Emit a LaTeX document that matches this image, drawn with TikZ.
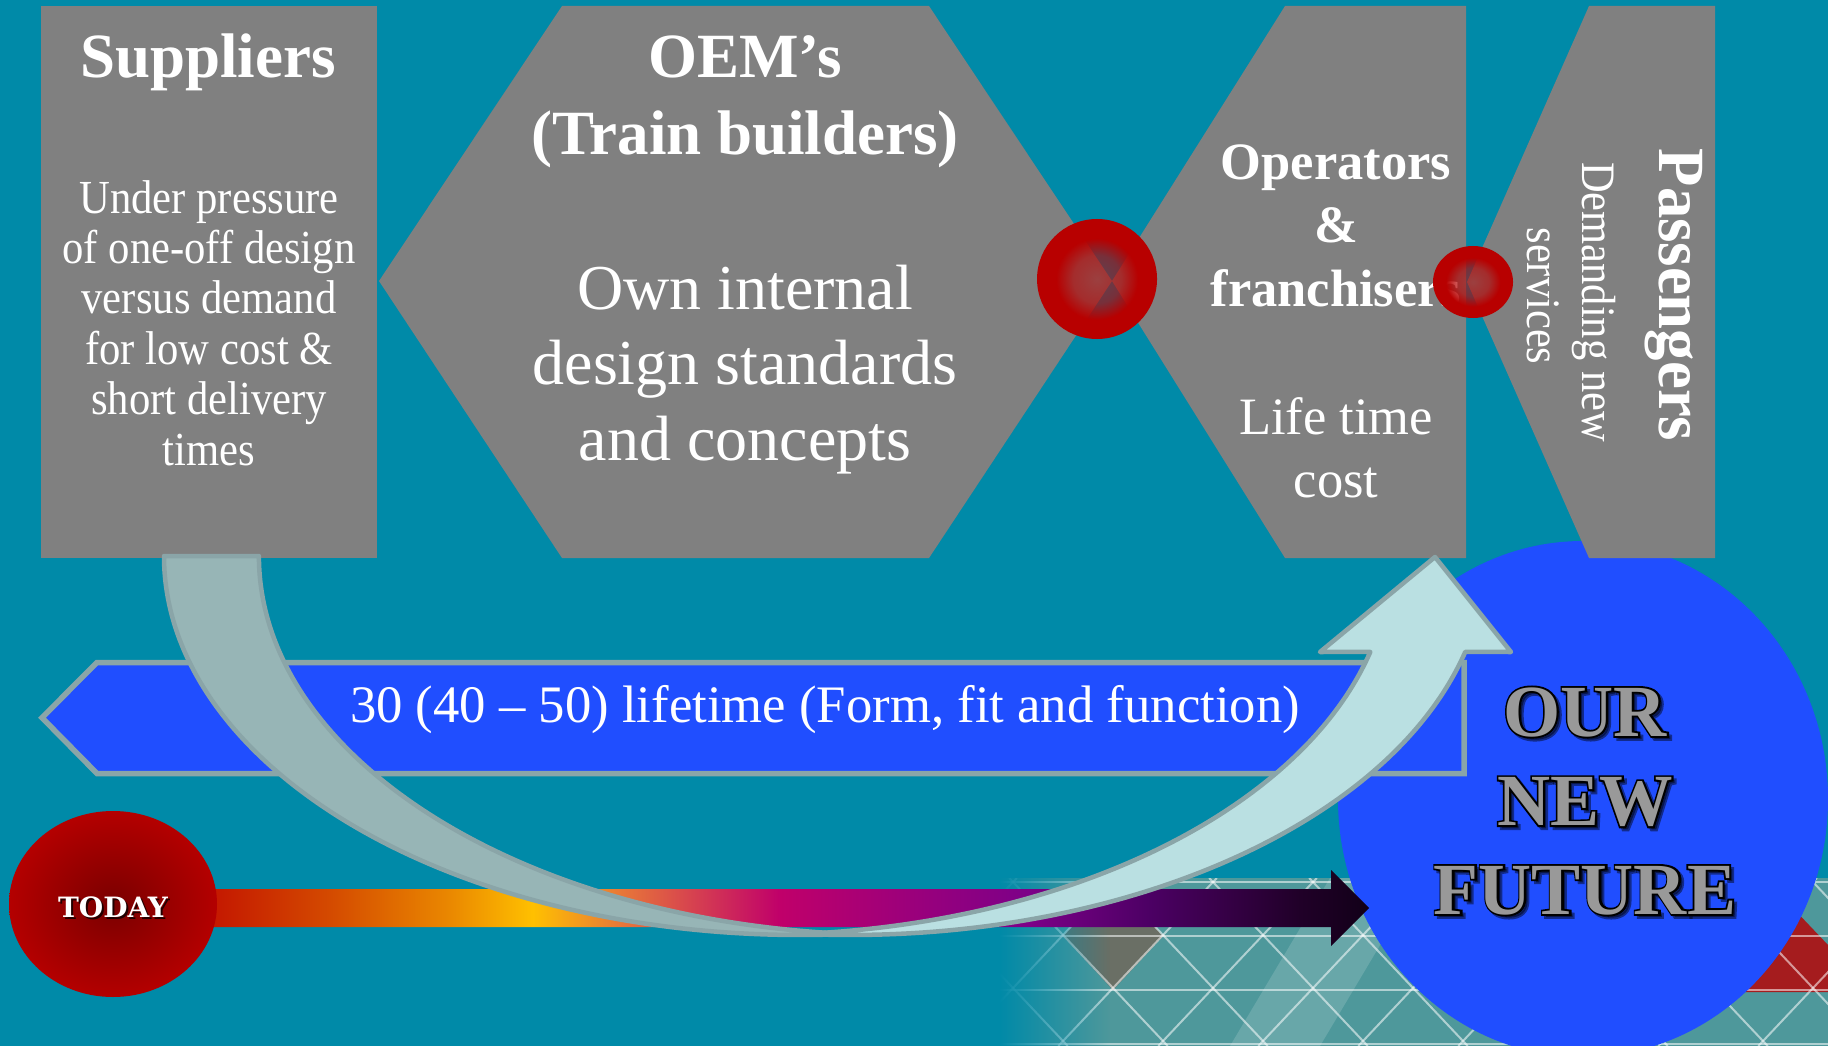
\documentclass[tikz,border=0pt]{standalone}
\usepackage{fontspec}
\setmainfont{Liberation Serif}
\newfontfamily\condserif{Liberation Serif}[FakeStretch=0.9]
\newfontfamily\sidefont{Liberation Serif}[FakeStretch=0.885]
\newfontfamily\passfont{Liberation Serif}[FakeStretch=0.95]
\newfontfamily\todayfont{DejaVu Serif}
\newfontfamily\rimfont{Liberation Serif}[BoldFeatures={FakeBold=5}]
\usetikzlibrary{fadings}

\definecolor{seac}{RGB}{0,138,168}
\definecolor{slatec}{RGB}{128,128,128}
\definecolor{royalc}{RGB}{32,78,255}
\definecolor{rimc}{RGB}{138,165,168}
\definecolor{backc}{RGB}{151,181,182}
\definecolor{frontc}{RGB}{186,224,226}
\definecolor{dotc}{RGB}{184,0,0}
\definecolor{todayc}{RGB}{180,0,0}
\definecolor{todaycorec}{RGB}{122,0,0}
\definecolor{futurec}{RGB}{153,153,153}
\definecolor{latc}{RGB}{78,152,155}
\definecolor{latbrownc}{RGB}{112,104,92}
\definecolor{latredc}{RGB}{165,28,30}
% colour stops of the time bar
\definecolor{tb0}{HTML}{C41800}
\definecolor{tb1}{HTML}{D44A00}
\definecolor{tb2}{HTML}{EA8800}
\definecolor{tb3}{HTML}{FFC000}
\definecolor{tb4}{HTML}{E87838}
\definecolor{tb5}{HTML}{D43C52}
\definecolor{tb6}{HTML}{C0006A}
\definecolor{tb7}{HTML}{9E007A}
\definecolor{tb8}{HTML}{7C0088}
\definecolor{tb9}{HTML}{4C0064}
\definecolor{tb10}{HTML}{200028}
\definecolor{tb11}{HTML}{120018}

\pgfdeclarehorizontalshading{timebar}{100bp}{color(0bp)=(tb0); color(26.4bp)=(tb0);
  color(31.3bp)=(tb1); color(36.35bp)=(tb2); color(39.84bp)=(tb3); color(43.5bp)=(tb4);
  color(46.87bp)=(tb5); color(50.23bp)=(tb6); color(55.28bp)=(tb7); color(60.74bp)=(tb8);
  color(65.79bp)=(tb9); color(72.1bp)=(tb10); color(75bp)=(tb11); color(100bp)=(tb11)}

% red joints: opaque rim, see-through core
\pgfdeclareradialshading{dotmask}{\pgfpointorigin}{color(0bp)=(pgftransparent!50);
  color(10bp)=(pgftransparent!35); color(17bp)=(pgftransparent!0); color(50bp)=(pgftransparent!0)}
\pgfdeclarefading{dotfade}{\pgfuseshading{dotmask}}
\tikzfading[name=latcover, left color=transparent!0, right color=transparent!100]

\tikzset{
  txt/.style={text=white, inner sep=0pt, anchor=base},
  headtxt/.style={txt, font=\fontsize{63}{70}\selectfont\bfseries},
  suptxt/.style={txt, font=\condserif\fontsize{47.4}{50}\selectfont},
  oemtxt/.style={txt, font=\fontsize{64}{70}\selectfont},
  optxt/.style={txt, font=\fontsize{52.5}{60}\selectfont\bfseries},
  costtxt/.style={txt, font=\fontsize{52.5}{60}\selectfont},
  passtxt/.style={txt, rotate=-90, font=\passfont\fontsize{66}{70}\selectfont\bfseries},
  demtxt/.style={txt, rotate=-90, font=\sidefont\fontsize{48}{55}\selectfont},
  spantxt/.style={txt, font=\fontsize{52.7}{60}\selectfont},
  todaytxt/.style={txt, font=\todayfont\fontsize{28}{30}\selectfont\bfseries},
  todayshade/.style={todaytxt, text=black, text opacity=.75},
  futfill/.style={inner sep=0pt, anchor=base, text=futurec, font=\fontsize{73.5}{80}\selectfont\bfseries},
  futrim/.style={futfill, text=black, font=\rimfont\fontsize{73.5}{80}\selectfont\bfseries},
  futshade/.style={futrim, text opacity=.45},
  stage/.style={fill=slatec},
  bannerbox/.style={fill=royalc, draw=rimc, line width=5.5pt},
  arrowback/.style={fill=backc, draw=rimc, line width=4.5pt, line join=round},
  arrowfront/.style={fill=frontc, draw=rimc, line width=4.5pt, line join=round},
  joint/.style={fill=dotc, path fading=dotfade},
  latline/.style={white, opacity=.55, line width=2pt},
}

\begin{document}
\begin{tikzpicture}[x=1pt,y=-1pt]
\useasboundingbox (0,0) rectangle (1828,1046);
\fill[seac] (0,0) rectangle (1828,1046);

% triangular lattice in the lower right corner
\begin{scope}
  \clip (1000,878) rectangle (1828,1046);
  \fill[latc] (1000,878) rectangle (1828,1046);
  \fill[white, opacity=.15] (1230,1046) -- (1330,878) -- (1420,878) -- (1320,1046) -- cycle;
  \fill[latbrownc, opacity=.85] (1113,882) -- (1163,936) -- (1113,990) -- (1063,936) -- cycle;
  \fill[latredc] (1790,905) -- (1828,945) -- (1828,992) -- (1740,992) -- cycle;
  \foreach \k in {-3,...,8} {
    \draw[latline] ({1216.8+100*\k},878) -- ++(-158.5,168);
    \draw[latline] ({1209.2+100*\k},878) -- ++(158.5,168);
  }
  \foreach \yy in {882,936,990,1044} \draw[latline] (1000,\yy) -- (1828,\yy);
  \fill[seac, path fading=latcover] (999,877) rectangle (1110,1047);
\end{scope}

% the future
\fill[royalc] (1583,799) ellipse[x radius=245, y radius=258];

% time bar from today onwards
\shade[shading=timebar] (180,889) -- (1331,889) -- (1331,870) -- (1369,908)
  -- (1331,946) -- (1331,927) -- (180,927) -- cycle;
\shade[inner color=todaycorec, outer color=todayc] (113,904) ellipse[x radius=104, y radius=93];

% lifetime banner
\draw[bannerbox] (42,717.7) -- (97,662.5) -- (1464,662.5) -- (1464,773.5) -- (97,773.5) -- cycle;

% the four stages of the chain
\fill[stage] (41,6) rectangle (377,558);
\fill[stage] (379,281) -- (562,6) -- (929,6) -- (1112,281) -- (929,558) -- (562,558) -- cycle;
\fill[stage] (1112,281) -- (1285,6) -- (1466,6) -- (1466,558) -- (1285,558) -- cycle;
\fill[stage] (1467,282) -- (1589,6) -- (1715,6) -- (1715,558) -- (1589,558) -- cycle;

% stage texts
\node[headtxt] (sup-head) at (208,78) {Suppliers};
\foreach \t [count=\i] in {Under pressure, of one-off design, versus demand, for low cost \&, short delivery, times}
  \node[suptxt] (sup-\i) at (209,{213+50.4*(\i-1)}) {\t};

\node[headtxt] (oem-head) at (745,77.7) {OEM’s};
\node[headtxt] (oem-sub) at (745,154.6) {(Train builders)};
\foreach \t [count=\i] in {Own internal, design standards, and concepts}
  \node[oemtxt] (oem-\i) at (745,{309+75.75*(\i-1)}) {\t};

\node[optxt] (op-1) at (1336,179.4) {Operators};
\node[optxt] (op-2) at (1336,242) {\&};
\node[optxt] (op-3) at (1336,306) {franchisers};
\node[costtxt] (cost-1) at (1336,434.6) {Life time};
\node[costtxt] (cost-2) at (1336,497.5) {cost};

\node[passtxt] (pass-head) at (1659,295) {Passengers};
\node[demtxt] (pass-1) at (1582,302) {Demanding new};
\node[demtxt] (pass-2) at (1527,296) {services};

% joints between the stages
\fill[joint] (1097,279) circle[radius=60];
\fill[joint] (1473,282) ellipse[x radius=40, y radius=36];

% curved arrow: back part from the suppliers
\draw[arrowback] (164,556) arc[start angle=180, end angle=85.72, x radius=636, y radius=379]
  arc[start angle=94.28, end angle=180, x radius=636, y radius=379] -- cycle;
% curved arrow: front part rising into the future
\draw[arrowfront] (802.5,933.9) arc[start angle=94.28, end angle=14.66, x radius=636, y radius=379]
  -- (1511,652) -- (1435,557) -- (1320,652) -- (1370.3,651.9)
  arc[start angle=14.66, end angle=85.72, x radius=636, y radius=379] -- cycle;

% banner text
\node[spantxt] (span) at (825,722.7) {30 (40 – 50) lifetime (Form, fit and function)};

% today
\node[todayshade] (today-shadow) at (115,919) {TODAY};
\node[todaytxt] (today) at (113,917) {TODAY};

% our new future
\foreach \w/\yb [count=\i] in {OUR/736, NEW/825.3, FUTURE/914} {
  \node[futshade] (fut-shadow-\i) at (1588,\yb+3) {\w};
  \node[futrim] (fut-rim-\i) at (1585,\yb) {\w};
  \node[futfill] (fut-\i) at (1585,\yb) {\w};
}
\end{tikzpicture}
\end{document}
